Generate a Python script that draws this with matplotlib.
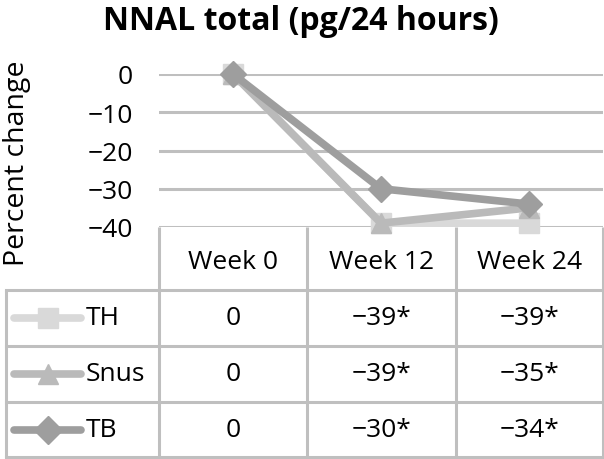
import matplotlib
matplotlib.use("Agg")
import matplotlib.pyplot as plt
from matplotlib.lines import Line2D

plt.rcParams['font.family'] = ['Open Sans', 'DejaVu Sans']

categories = ["Week 0", "Week 12", "Week 24"]
series_names = ["TH", "Snus", "TB"]
th_values = [0, -39, -39]
snus_values = [0, -39, -35]
tb_values = [0, -30, -34]
table_labels = {
    "TH": ["0", "\u221239*", "\u221239*"],
    "Snus": ["0", "\u221239*", "\u221235*"],
    "TB": ["0", "\u221230*", "\u221234*"],
}
yticks = [0, -10, -20, -30, -40]

colors = {"TH": "#d9d9d9", "Snus": "#bababa", "TB": "#9e9e9e"}
markers = {"TH": "s", "Snus": "^", "TB": "D"}
msize = {"TH": 14, "Snus": 14, "TB": 13}
values = {"TH": th_values, "Snus": snus_values, "TB": tb_values}

W, H = 604, 460
fig = plt.figure(figsize=(W / 100, H / 100), dpi=100)

def fx(px):
    return px / W

def fy(py):
    return 1 - py / H

grid_c = "#bfbfbf"
fs = 19
# plot area
left, right = 159, 603
y0px, y40px = 75, 228
ax = fig.add_axes([fx(left), fy(y40px), fx(right - left), (y40px - y0px) / H])
ax.set_xlim(-0.5, len(categories) - 0.5)
ax.set_ylim(-40, 0)
for s in ax.spines.values():
    s.set_visible(False)
ax.set_yticks(yticks)
ax.set_yticklabels([("\u2212%d" % -t) if t < 0 else "0" for t in yticks], fontsize=fs)
ax.tick_params(axis='y', length=0, pad=19)
ax.set_xticks([])
ax.set_axisbelow(True)
ax.yaxis.grid(True, color=grid_c, linewidth=2.2)
for name in series_names:
    ax.plot(range(len(categories)), values[name], color=colors[name], linewidth=5.5,
            marker=markers[name], markersize=msize[name], solid_capstyle='round',
            clip_on=False, zorder=3)

fig.text(fx(301), fy(21), "NNAL total (pg/24 hours)", fontsize=23, fontweight='bold',
         ha='center', va='center')
fig.text(fx(17), fy(163), "Percent change", fontsize=20.5, rotation=90, ha='center', va='center')

# table
tax = fig.add_axes([0, 0, 1, 1])
tax.set_xlim(0, W)
tax.set_ylim(H, 0)
tax.axis('off')
col_x = [159, 307, 456, 603]
row_y = [228, 291, 347, 403, 458]
lw = 2.2
for x in col_x:
    tax.plot([x, x], [row_y[0], row_y[-1]], color=grid_c, lw=lw, solid_capstyle='butt')
tax.plot([6, 6], [row_y[1], row_y[-1]], color=grid_c, lw=lw, solid_capstyle='butt')
for y in row_y[1:]:
    tax.plot([6, 603], [y, y], color=grid_c, lw=lw)

for i, c in enumerate(categories):
    cx = (col_x[i] + col_x[i + 1]) / 2
    tax.text(cx, (row_y[0] + row_y[1]) / 2 + 3, c, fontsize=fs, ha='center', va='center')

for r, name in enumerate(series_names):
    cy = (row_y[r + 1] + row_y[r + 2]) / 2
    tax.add_line(Line2D([14, 81], [cy, cy], color=colors[name], lw=5.5,
                        solid_capstyle='round'))
    tax.add_line(Line2D([48], [cy], color=colors[name], marker=markers[name],
                        markersize=msize[name] + 1, lw=0))
    tax.text(86, cy, name, fontsize=fs, ha='left', va='center')
    for i in range(len(categories)):
        cx = (col_x[i] + col_x[i + 1]) / 2
        tax.text(cx, cy, table_labels[name][i], fontsize=fs, ha='center', va='center')

fig.savefig("out.png", dpi=100)
